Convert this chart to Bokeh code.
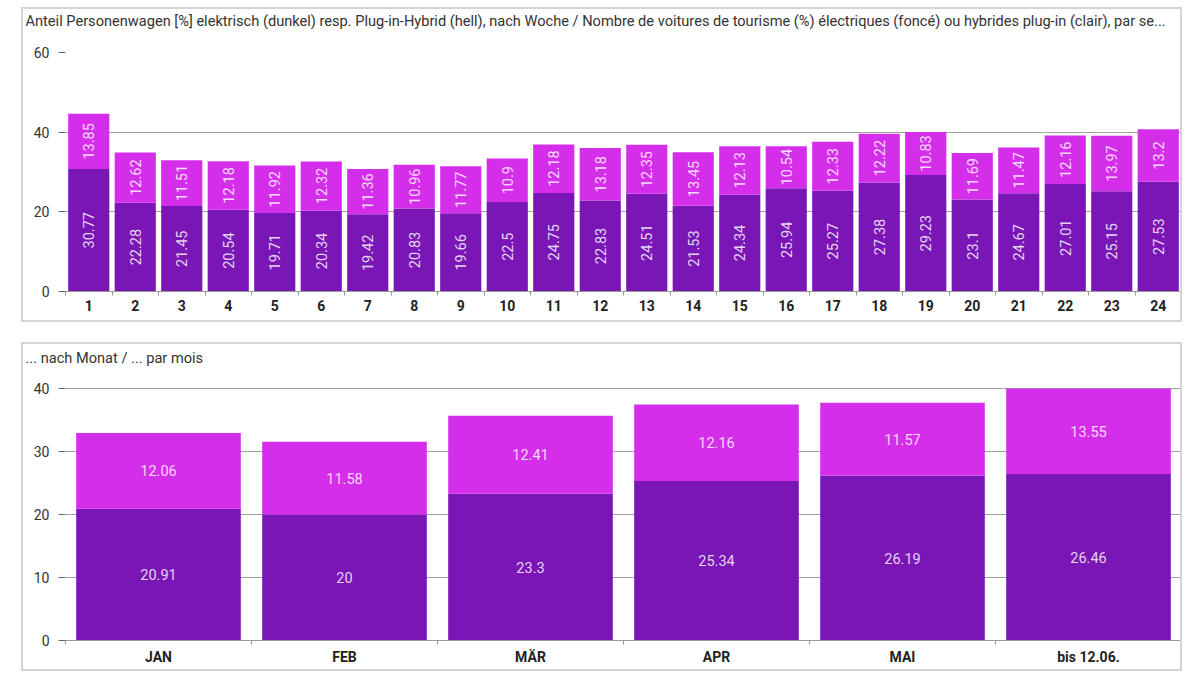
from bokeh.plotting import figure
from bokeh.layouts import column
from bokeh.models import ColumnDataSource, FixedTicker, Range1d, Title
from bokeh.core.properties import value
from bokeh.embed import file_html
from bokeh.resources import INLINE
import math

# ---- data ----
weeks = list(range(1, 25))
week_elec = [30.77, 22.28, 21.45, 20.54, 19.71, 20.34, 19.42, 20.83, 19.66, 22.5, 24.75, 22.83,
             24.51, 21.53, 24.34, 25.94, 25.27, 27.38, 29.23, 23.1, 24.67, 27.01, 25.15, 27.53]
week_phev = [13.85, 12.62, 11.51, 12.18, 11.92, 12.32, 11.36, 10.96, 11.77, 10.9, 12.18, 13.18,
             12.35, 13.45, 12.13, 10.54, 12.33, 12.22, 10.83, 11.69, 11.47, 12.16, 13.97, 13.2]
months = ["JAN", "FEB", "MÄR", "APR", "MAI", "bis 12.06."]
month_elec = [20.91, 20, 23.3, 25.34, 26.19, 26.46]
month_phev = [12.06, 11.58, 12.41, 12.16, 11.57, 13.55]

title_top = ("Anteil Personenwagen [%] elektrisch (dunkel) resp. Plug-in-Hybrid (hell), nach Woche / "
             "Nombre de voitures de tourisme (%) électriques (foncé) ou hybrides plug-in (clair), par se...")
title_bottom = "... nach Monat / ... par mois"
top_yticks = [0, 20, 40, 60]
bottom_yticks = [0, 10, 20, 30, 40]

DARK = "#7a16b5"
LIGHT = "#d52eeb"
FONT = "Roboto"


def fmt(v):
    return f"{v:g}"


def make_fig(title, n, labels, elec, phev, ymax, yticks, h, mb_top, spacer, rotate, margin, width=0.885):
    p = figure(width=1161, height=h, output_backend="svg", toolbar_location=None,
               x_range=Range1d(0.5, n + 0.5), y_range=Range1d(0, ymax), title=None,
               min_border_left=42, min_border_right=3, min_border_top=mb_top, min_border_bottom=33,
               margin=margin)
    p.styles = {"border": "2px solid #d4d4d4", "box-sizing": "border-box"}
    p.outline_line_color = None
    p.background_fill_color = "white"
    p.border_fill_color = "white"

    # spacer (closest to the frame) and the real title (outermost)
    p.add_layout(Title(text="\u00a0", text_font_size="1px", standoff=spacer), "above")
    p.add_layout(Title(text=title, text_font=FONT, text_font_size="14.6px", text_font_style="normal",
                       text_color="#333333", align="left", offset=-40, standoff=0), "above")

    xs = list(range(1, n + 1))
    tops = [e + q for e, q in zip(elec, phev)]
    src = ColumnDataSource(dict(
        x=xs, elec=elec, tops=tops,
        ymid_e=[e / 2 for e in elec],
        ymid_p=[e + q / 2 for e, q in zip(elec, phev)],
        lab_e=[fmt(v) for v in elec], lab_p=[fmt(v) for v in phev]))
    p.vbar(x="x", width=width, bottom=0, top="elec", source=src, fill_color=DARK, line_color=None)
    p.vbar(x="x", width=width, bottom="elec", top="tops", source=src, fill_color=LIGHT, line_color=None)
    ang = math.pi / 2 if rotate else 0
    for ycol, tcol in (("ymid_e", "lab_e"), ("ymid_p", "lab_p")):
        p.text(x="x", y=ycol, text=tcol, source=src, angle=ang, text_align="center",
               text_baseline="middle", text_font=value(FONT), text_font_size="14.5px",
               text_color="white", text_alpha=0.82)

    # grid
    p.xgrid.grid_line_color = None
    p.ygrid.ticker = FixedTicker(ticks=yticks)
    p.ygrid.grid_line_color = "#a0a0a0"
    p.ygrid.grid_line_width = 1

    # y axis
    p.yaxis.ticker = FixedTicker(ticks=yticks)
    p.yaxis.axis_line_color = None
    p.yaxis.major_tick_in = 0
    p.yaxis.major_tick_out = 7
    p.yaxis.major_tick_line_color = "#666666"
    p.yaxis.minor_tick_line_color = None
    p.yaxis.major_label_text_font = FONT
    p.yaxis.major_label_text_font_size = "14px"
    p.yaxis.major_label_text_color = "#333333"
    p.yaxis.major_label_standoff = 9

    # x axis
    p.xaxis.ticker = FixedTicker(ticks=xs, minor_ticks=[i + 0.5 for i in range(0, n + 1)])
    p.xaxis.major_label_overrides = {i: str(lab) for i, lab in zip(xs, labels)}
    p.xaxis.axis_line_color = "#999999"
    p.xaxis.major_tick_line_color = None
    p.xaxis.major_tick_out = 0
    p.xaxis.major_tick_in = 0
    p.xaxis.minor_tick_in = 0
    p.xaxis.minor_tick_out = 4
    p.xaxis.minor_tick_line_color = "#999999"
    p.xaxis.major_label_text_font = FONT
    p.xaxis.major_label_text_font_size = "14px"
    p.xaxis.major_label_text_font_style = "bold"
    p.xaxis.major_label_text_color = "#222222"
    p.xaxis.major_label_standoff = 4
    return p


p1 = make_fig(title_top, len(weeks), weeks, week_elec, week_phev, 60, top_yticks, 315, 43, 20, True,
              (7, 0, 0, 21))
p2 = make_fig(title_bottom, len(months), months, month_elec, month_phev, 41.3, bottom_yticks, 329, 36, 11, False,
              (0, 0, 0, 21))

layout = column(p1, p2, spacing=20)
open("out.html", "w").write(file_html(layout, INLINE))
